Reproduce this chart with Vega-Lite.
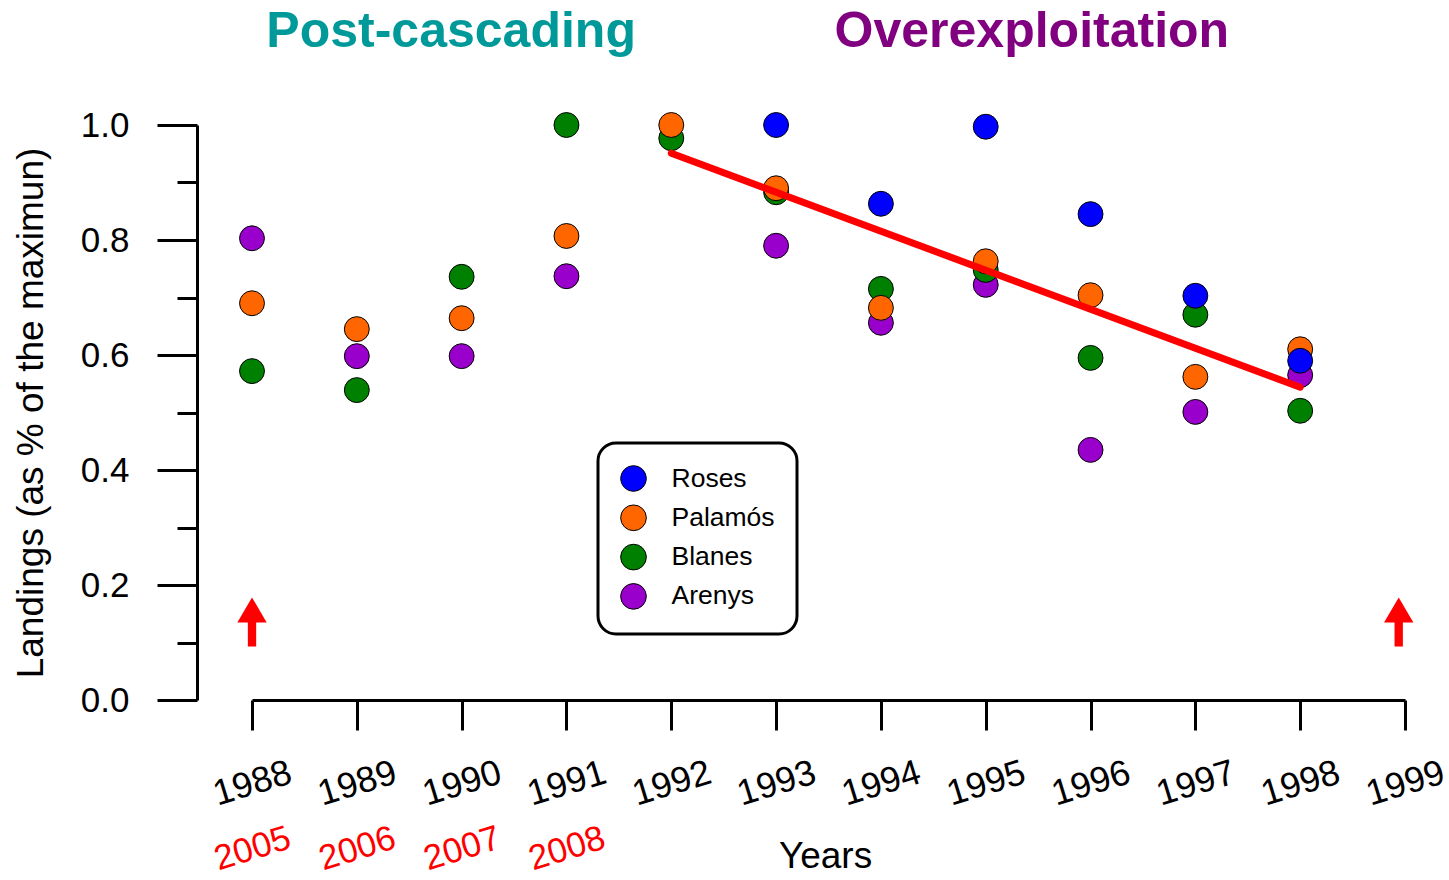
{
  "$schema": "https://vega.github.io/schema/vega-lite/v6.json",
  "width": 1153,
  "height": 575,
  "autosize": {"type": "none"},
  "padding": {"left": 252, "top": 125, "right": 44, "bottom": 180},
  "background": "white",
  "config": {
    "view": {"stroke": null},
    "font": "Liberation Sans",
    "axis": {"grid": false, "domainColor": "black", "tickColor": "black", "labelColor": "black", "titleColor": "black", "labelFont": "Liberation Sans", "titleFont": "Liberation Sans", "titleFontWeight": "normal"}
  },
  "datasets": {
    "landings": [
      {"year": 1988, "site": "Arenys", "value": 0.803},
      {"year": 1989, "site": "Arenys", "value": 0.598},
      {"year": 1990, "site": "Arenys", "value": 0.598},
      {"year": 1991, "site": "Arenys", "value": 0.737},
      {"year": 1993, "site": "Arenys", "value": 0.790},
      {"year": 1994, "site": "Arenys", "value": 0.656},
      {"year": 1995, "site": "Arenys", "value": 0.722},
      {"year": 1996, "site": "Arenys", "value": 0.435},
      {"year": 1997, "site": "Arenys", "value": 0.501},
      {"year": 1998, "site": "Arenys", "value": 0.565},
      {"year": 1988, "site": "Blanes", "value": 0.572},
      {"year": 1989, "site": "Blanes", "value": 0.539},
      {"year": 1990, "site": "Blanes", "value": 0.736},
      {"year": 1991, "site": "Blanes", "value": 1.0},
      {"year": 1992, "site": "Blanes", "value": 0.977},
      {"year": 1993, "site": "Blanes", "value": 0.883},
      {"year": 1994, "site": "Blanes", "value": 0.715},
      {"year": 1995, "site": "Blanes", "value": 0.748},
      {"year": 1996, "site": "Blanes", "value": 0.595},
      {"year": 1997, "site": "Blanes", "value": 0.670},
      {"year": 1998, "site": "Blanes", "value": 0.503},
      {"year": 1988, "site": "Palamós", "value": 0.690},
      {"year": 1989, "site": "Palamós", "value": 0.645},
      {"year": 1990, "site": "Palamós", "value": 0.664},
      {"year": 1991, "site": "Palamós", "value": 0.807},
      {"year": 1992, "site": "Palamós", "value": 1.0},
      {"year": 1993, "site": "Palamós", "value": 0.890},
      {"year": 1994, "site": "Palamós", "value": 0.682},
      {"year": 1995, "site": "Palamós", "value": 0.763},
      {"year": 1996, "site": "Palamós", "value": 0.704},
      {"year": 1997, "site": "Palamós", "value": 0.562},
      {"year": 1998, "site": "Palamós", "value": 0.610},
      {"year": 1993, "site": "Roses", "value": 1.0},
      {"year": 1994, "site": "Roses", "value": 0.863},
      {"year": 1995, "site": "Roses", "value": 0.997},
      {"year": 1996, "site": "Roses", "value": 0.845},
      {"year": 1997, "site": "Roses", "value": 0.703},
      {"year": 1998, "site": "Roses", "value": 0.590}
    ],
    "trend": [
      {"year": 1992, "value": 0.951},
      {"year": 1998, "value": 0.544}
    ],
    "arrows": [
      {"year": 1988, "value": 0.1357},
      {"year": 1998.94, "value": 0.1357}
    ],
    "phases": [
      {"year": 1989.9, "value": 1.1357, "label": "Post-cascading", "color": "#009999"},
      {"year": 1995.44, "value": 1.1357, "label": "Overexploitation", "color": "#800080"}
    ]
  },
  "resolve": {"axis": {"x": "independent", "y": "independent"}},
  "layer": [
    {
      "data": {"name": "landings"},
      "mark": {"type": "circle", "size": 620, "opacity": 1, "stroke": "black", "strokeWidth": 1},
      "encoding": {
        "x": {
          "field": "year", "type": "quantitative",
          "scale": {"domain": [1988, 1999], "nice": false, "zero": false},
          "axis": {
            "orient": "bottom",
            "values": [1988, 1989, 1990, 1991, 1992, 1993, 1994, 1995, 1996, 1997, 1998, 1999],
            "format": "d",
            "tickSize": 30, "tickWidth": 3, "domainWidth": 3,
            "labelAngle": -17, "labelAlign": "center", "labelBaseline": "middle",
            "labelPadding": 53, "labelFontSize": 36, "labelOverlap": false, "labelFlush": false, "labelBound": false,
            "title": "Years", "titleFontSize": 37, "titleBaseline": "alphabetic", "titleAlign": "center", "titleX": 573, "titleY": 167
          }
        },
        "y": {
          "field": "value", "type": "quantitative",
          "scale": {"domain": [0, 1], "nice": false, "zero": true},
          "axis": {
            "orient": "left", "offset": 55,
            "values": [0, 0.2, 0.4, 0.6, 0.8, 1.0],
            "format": ".1f",
            "tickSize": 40, "tickWidth": 3, "domainWidth": 3,
            "labelFontSize": 35, "labelPadding": 28, "labelOverlap": false, "labelFlush": false, "labelBound": false,
            "title": "Landings (as % of the maximun)", "titleFontSize": 37,
            "titleAngle": -90, "titleAlign": "center", "titleBaseline": "alphabetic",
            "titleX": -155, "titleY": 287.5
          }
        },
        "color": {
          "field": "site", "type": "nominal",
          "scale": {"domain": ["Roses", "Palamós", "Blanes", "Arenys"], "range": ["#0000FF", "#FF6600", "#008000", "#9900CC"]},
          "legend": {
            "orient": "none", "legendX": 346, "legendY": 318,
            "title": null,
            "labelFont": "Liberation Sans", "labelFontSize": 26.5, "labelColor": "black",
            "symbolType": "circle", "symbolSize": 660, "symbolStrokeColor": "black", "symbolStrokeWidth": 1, "symbolOpacity": 1,
            "padding": 22, "rowPadding": 8.3, "labelOffset": 24.5,
            "strokeColor": "black", "cornerRadius": 18, "fillColor": "white",
            "encode": {"legend": {"update": {"strokeWidth": {"value": 3}}}}
          }
        }
      }
    },
    {
      "data": {"name": "trend"},
      "mark": {"type": "line", "color": "#FF0000", "strokeWidth": 7, "strokeCap": "round"},
      "encoding": {
        "x": {
          "field": "year", "type": "quantitative",
          "axis": {
            "orient": "bottom",
            "values": [1988, 1989, 1990, 1991],
            "labelExpr": "'' + (datum.value + 17)",
            "domain": false, "ticks": false, "tickSize": 0,
            "labelAngle": -17, "labelAlign": "center", "labelBaseline": "middle",
            "labelPadding": 148, "labelFontSize": 35, "labelColor": "#FF0000",
            "labelOverlap": false, "labelFlush": false, "labelBound": false,
            "title": null
          }
        },
        "y": {
          "field": "value", "type": "quantitative",
          "axis": {
            "orient": "left", "offset": 55,
            "values": [0.1, 0.3, 0.5, 0.7, 0.9],
            "tickSize": 20, "tickWidth": 3,
            "domain": false, "labels": false, "title": null
          }
        }
      }
    },
    {
      "data": {"name": "arrows"},
      "mark": {"type": "point", "shape": "M0,-1L0.6,0.02L0.17,0.02L0.17,1L-0.17,1L-0.17,0.02L-0.6,0.02Z", "size": 2401, "filled": true, "color": "#FF0000", "opacity": 1, "strokeWidth": 0},
      "encoding": {
        "x": {"field": "year", "type": "quantitative", "axis": null},
        "y": {"field": "value", "type": "quantitative", "axis": null}
      }
    },
    {
      "data": {"name": "phases"},
      "mark": {"type": "text", "font": "Liberation Sans", "fontSize": 50, "fontWeight": "bold", "align": "center", "baseline": "alphabetic"},
      "encoding": {
        "x": {"field": "year", "type": "quantitative", "axis": null},
        "y": {"field": "value", "type": "quantitative", "axis": null},
        "text": {"field": "label"},
        "color": {"field": "color", "type": "nominal", "scale": null}
      }
    }
  ]
}
